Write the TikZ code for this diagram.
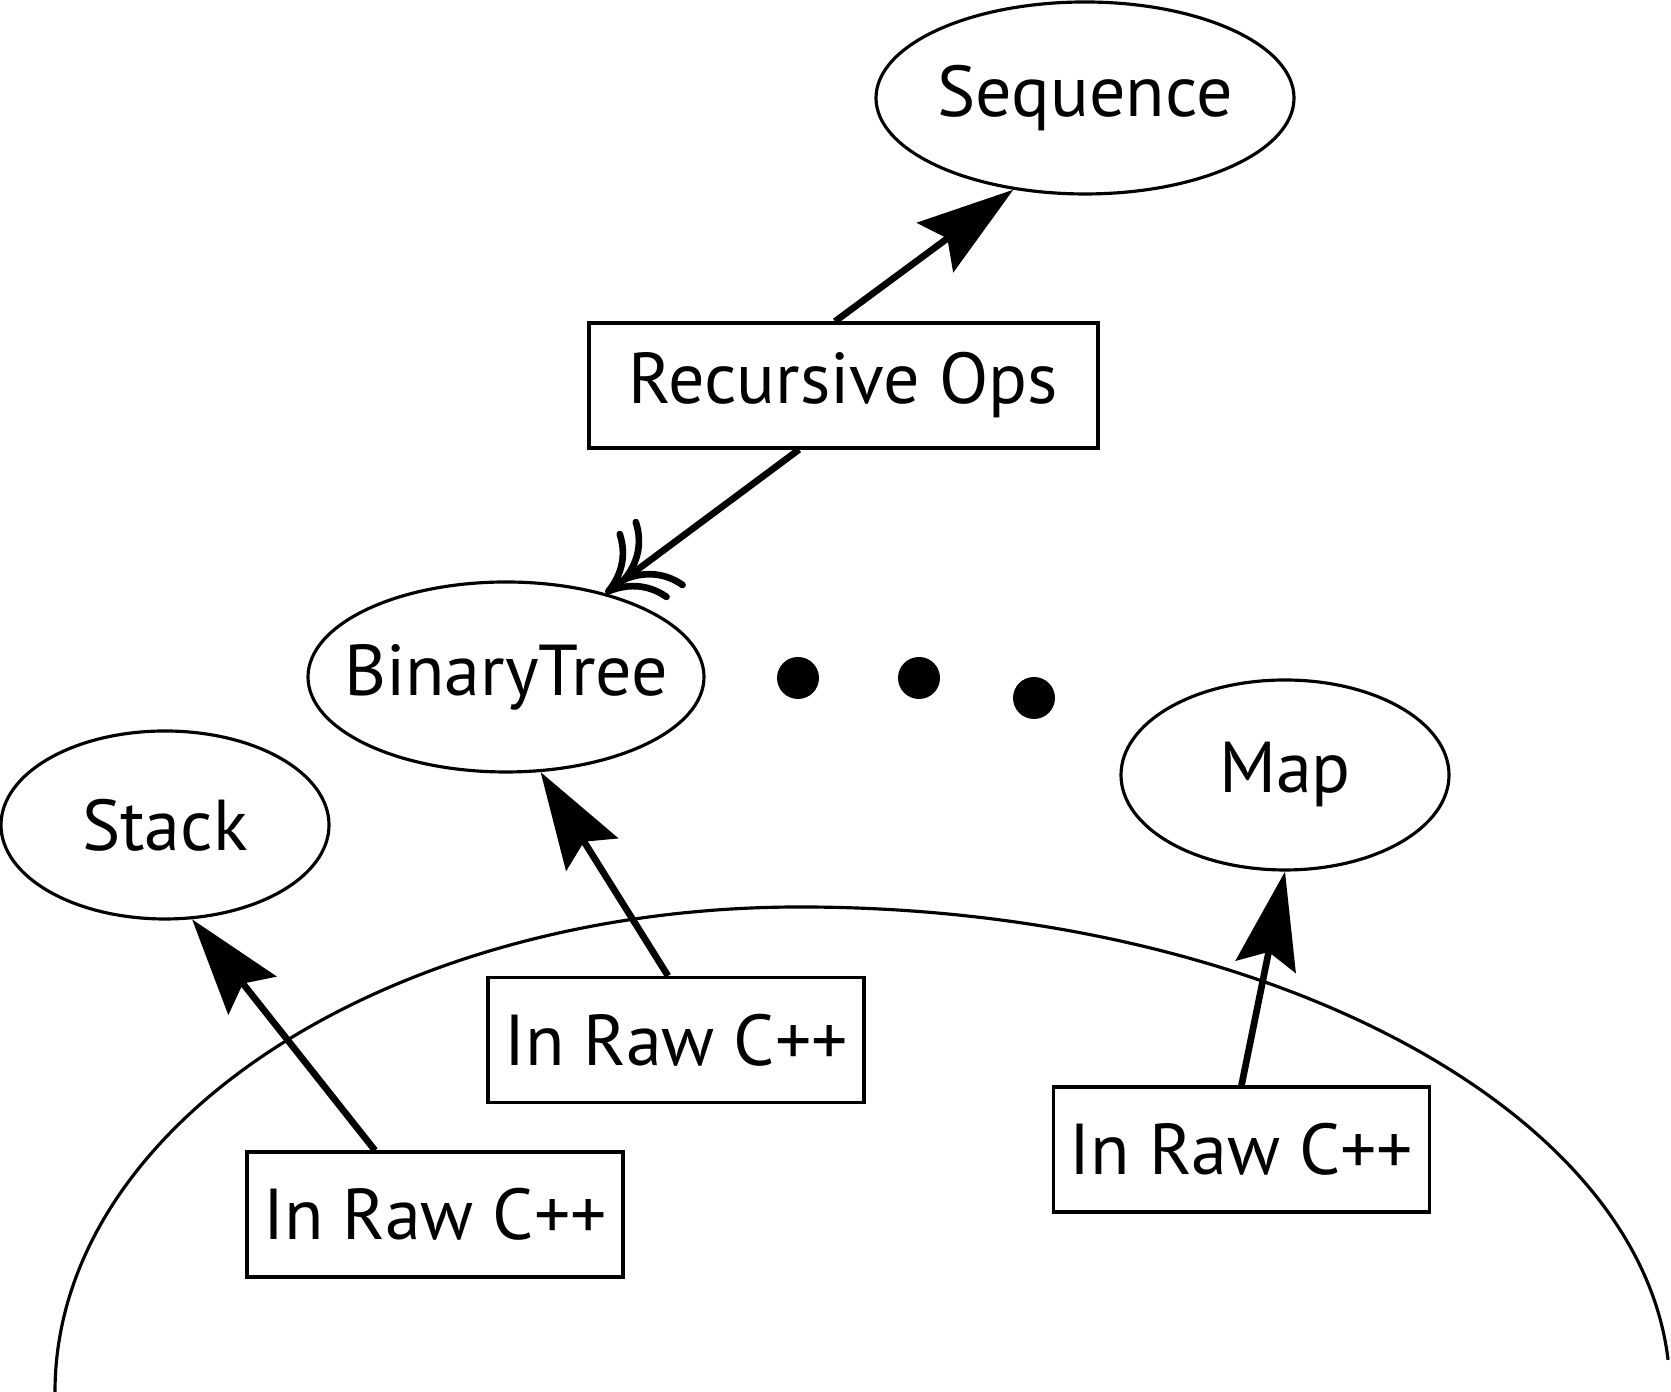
\documentclass[tikz,border=0pt]{standalone}
\usepackage{fontspec}
\setmainfont{PT Sans}
\usepackage{tikz}
\usetikzlibrary{shapes.geometric}
\usetikzlibrary{arrows.meta}

\begin{document}
\begin{tikzpicture}[every node/.style={font=\fontsize{20.5}{24}\selectfont, inner sep=0pt},
		oval/.style={ellipse, draw, line width=0.9pt, inner xsep=-0.3cm},
		cbox/.style={rectangle, draw, line width=0.9pt, minimum width=3.76cm, minimum height=1.25cm},
		dot/.style={circle, fill, minimum size=0.42cm},
		link/.style={line width=1.9pt, -{Stealth[length=9.7mm, width=6.1mm, inset=1.5mm]}}]
			
			\useasboundingbox (0,0) rectangle (16.71,13.92);
			
			\node[oval, minimum width=4.18cm, minimum height=1.92cm] (seq) at (10.85, 12.94) {Sequence};
			\node[cbox, minimum width=5.09cm] (ops) at (8.435, 10.065) {Recursive Ops};
			\node[oval, minimum width=3.96cm, minimum height=1.90cm] (bt) at (5.06, 7.15) {BinaryTree};
			\node[oval, minimum width=3.28cm, minimum height=1.88cm] (stack) at (1.65, 5.67) {Stack};
			\node[oval, minimum width=3.28cm, minimum height=1.90cm] (map) at (12.85, 6.17) {Map};
			
			\node[dot] (d1) at (7.98, 7.14) {};
			\node[dot] (d2) at (9.19, 7.14) {};
			\node[dot] (d3) at (10.34, 6.94) {};
			
			\node[cbox] (raw1) at (4.35, 1.775) {In Raw C++};
			\node[cbox] (raw2) at (6.76, 3.52) {In Raw C++};
			\node[cbox] (raw3) at (12.415, 2.425) {In Raw C++};
			
			% the big arc
			\draw[line width=0.9pt] (0.55, 0) arc[start angle=180, end angle=90, x radius=7.45, y radius=4.85]
				arc[start angle=90, end angle=3.8, x radius=8.7, y radius=4.85];
			
			%  for ops
			\draw[link] ([xshift=-0.085cm]ops.north) -- (seq.232);
			\draw[line width=1.9pt, -{Computer Modern Rightarrow[length=5mm, width=8.5mm, sep=-3mm] Computer Modern Rightarrow[length=5mm, width=8.5mm]}] ([xshift=-0.445cm]ops.south) -- (bt.40);
			%  for raw
			\draw[link] ([xshift=-0.6cm]raw1.north) -- (stack.286);
			\draw[link] ([xshift=-0.08cm]raw2.north) -- (bt.290);
			\draw[link] (raw3.north) -- (map.south);
		\end{tikzpicture}
\end{document}
